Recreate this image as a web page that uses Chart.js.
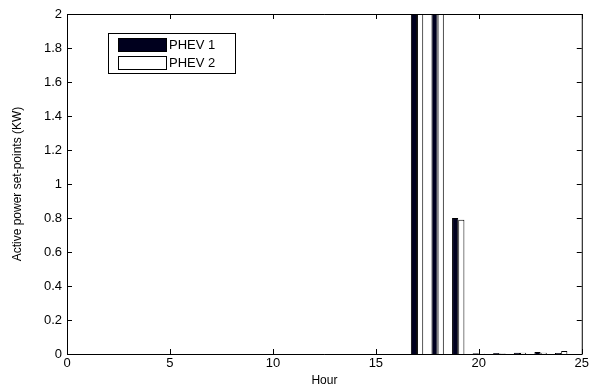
<!DOCTYPE html>
<html>
<head>
<meta charset="utf-8">
<script src="https://cdn.jsdelivr.net/npm/chart.js@4.4.1/dist/chart.umd.min.js"></script>
<style>
  html, body { margin: 0; padding: 0; background: #fff; }
  #wrap { width: 591px; height: 390px; }
</style>
</head>
<body>
<div id="wrap"><canvas id="phevChart" width="591" height="390"></canvas></div>
<script>
// hours of the day
const hours = [1, 2, 3, 4, 5, 6, 7, 8, 9, 10, 11, 12, 13, 14, 15, 16, 17, 18, 19, 20, 21, 22, 23, 24];

// active power set-points (kW), hours 17 and 18 run off the top of the axis
const phev1 = [0, 0, 0, 0, 0, 0, 0, 0, 0, 0, 0, 0, 0, 0, 0, 0, 2.5, 2.5, 0.80, 0.004, 0.006, 0.008, 0.012, 0.006];
const phev2 = [0, 0, 0, 0, 0, 0, 0, 0, 0, 0, 0, 0, 0, 0, 0, 0, 2.5, 2.5, 0.79, 0.002, 0.003, 0.008, 0.008, 0.018];

const seriesNames = ["PHEV 1", "PHEV 2"];
const xTicks = [0, 5, 10, 15, 20, 25];
const yTicks = [0, 0.2, 0.4, 0.6, 0.8, 1, 1.2, 1.4, 1.6, 1.8, 2];

const FONT = "'Liberation Sans', Arial, sans-serif";

// matlab style box with inward ticks on all four sides
const boxPlugin = {
    id: "boxAxes",
    afterDatasetsDraw(chart) {
        const { ctx, chartArea: { left, right, top, bottom }, scales: { x, y } } = chart;
        const len = 5;
        ctx.save();
        ctx.strokeStyle = "#000";
        ctx.lineWidth = 1;
        ctx.beginPath();
        ctx.rect(left + 0.5, top + 0.5, right - left, bottom - top);
        x.ticks.forEach(t => {
            const px = Math.round(x.getPixelForValue(t.value)) + 0.5;
            ctx.moveTo(px, bottom); ctx.lineTo(px, bottom - len);
            ctx.moveTo(px, top); ctx.lineTo(px, top + len);
        });
        y.ticks.forEach(t => {
            const py = Math.round(y.getPixelForValue(t.value)) + 0.5;
            ctx.moveTo(left, py); ctx.lineTo(left + len, py);
            ctx.moveTo(right, py); ctx.lineTo(right - len, py);
        });
        ctx.stroke();
        ctx.restore();
    }
};

// boxed legend in the upper left of the plot
const legendPlugin = {
    id: "boxLegend",
    afterDraw(chart) {
        const ctx = chart.ctx;
        const bx = 108, by = 33, bw = 127, bh = 40;
        ctx.save();
        ctx.fillStyle = "#fff";
        ctx.fillRect(bx, by, bw, bh);
        ctx.strokeStyle = "#000";
        ctx.lineWidth = 1;
        ctx.strokeRect(bx + 0.5, by + 0.5, bw, bh);
        ctx.font = "13px " + FONT;
        ctx.textBaseline = "middle";
        chart.data.datasets.forEach((ds, i) => {
            const sy = by + 5 + i * 18;
            ctx.fillStyle = ds.backgroundColor;
            ctx.fillRect(118, sy, 48, 13);
            ctx.strokeRect(118.5, sy + 0.5, 48, 13);
            ctx.fillStyle = "#000";
            ctx.fillText(ds.label, 169, sy + 7);
        });
        ctx.restore();
    }
};

const ctx = document.getElementById("phevChart").getContext("2d");

new Chart(ctx, {
    type: "bar",
    data: {
        datasets: [
            {
                label: seriesNames[0],
                data: hours.map((h, i) => ({ x: h, y: phev1[i] })),
                backgroundColor: "#00001e",
                borderColor: "#000",
                borderWidth: 1,
                clip: 0
            },
            {
                label: seriesNames[1],
                data: hours.map((h, i) => ({ x: h, y: phev2[i] })),
                backgroundColor: "#ffffff",
                borderColor: "#000",
                borderWidth: 1,
                clip: 0
            }
        ]
    },
    options: {
        responsive: false,
        animation: false,
        categoryPercentage: 0.6,
        barPercentage: 1,
        layout: { padding: { top: 14, right: 8, left: 0, bottom: 0 } },
        plugins: {
            legend: { display: false },
            tooltip: { enabled: false }
        },
        scales: {
            x: {
                type: "linear",
                min: 0,
                max: 25,
                offset: false,
                grid: { display: false, drawTicks: false, offset: false },
                border: { display: false },
                afterBuildTicks: s => { s.ticks = xTicks.map(v => ({ value: v })); },
                ticks: { color: "#000", font: { family: FONT, size: 13 }, padding: 2, maxRotation: 0, callback: v => String(v) },
                title: { display: true, text: "Hour", color: "#000", font: { family: FONT, size: 12 }, padding: { top: 0, bottom: 2 } },
                afterFit: s => { s.height = 36; }
            },
            y: {
                min: 0,
                max: 2,
                grid: { display: false, drawTicks: false },
                border: { display: false },
                afterBuildTicks: s => { s.ticks = yTicks.map(v => ({ value: v })); },
                ticks: { color: "#000", font: { family: FONT, size: 13 }, padding: 5, callback: v => String(v) },
                title: { display: true, text: "Active power set-points (KW)", color: "#000", font: { family: FONT, size: 12 }, padding: { top: 10, bottom: 0 } },
                afterFit: s => { s.width = 67; }
            }
        }
    },
    plugins: [boxPlugin, legendPlugin]
});
</script>
</body>
</html>
